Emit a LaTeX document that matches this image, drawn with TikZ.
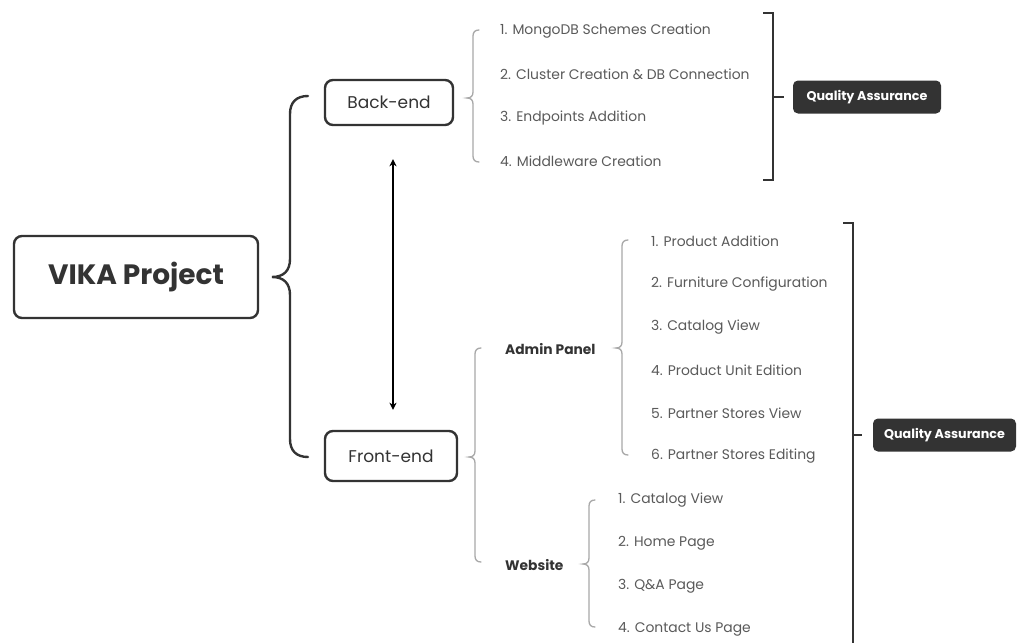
\documentclass[tikz,border=0pt]{standalone}
\usepackage{fontspec}
\setmainfont{Poppins}
\usetikzlibrary{calc,arrows.meta}
\definecolor{ink}{HTML}{333333}
\definecolor{itemgray}{HTML}{5A5A5A}
\definecolor{bracegray}{HTML}{A8A8A8}
\newcommand\mybrace[6]{%
  \draw[#1] ($(#2,#3)+(#6,0)$) .. controls ($(#2,#3)+(0.35*#6,0)$) and ($(#2,#3)+(0,0.35*#6)$) .. ($(#2,#3)+(0,#6)$)
    -- ($(#2,#4)+(0,-#6)$) .. controls ($(#2,#4)+(0,-0.35*#6)$) and ($(#2,#4)+(-0.35*#6,0)$) .. ($(#2,#4)+(-#6,0)$)
    .. controls ($(#2,#4)+(-0.35*#6,0)$) and ($(#2,#4)+(0,0.35*#6)$) .. ($(#2,#4)+(0,#6)$)
    -- ($(#2,#5)+(0,-#6)$) .. controls ($(#2,#5)+(0,-0.35*#6)$) and ($(#2,#5)+(0.35*#6,0)$) .. ($(#2,#5)+(#6,0)$);}
\tikzset{
  mainbox/.style={draw=ink, line width=2.4pt, rounded corners=8pt, text=ink, align=center},
  item/.style={anchor=west, text=itemgray, font=\fontsize{13.9}{16}\selectfont, inner sep=0pt},
  sub/.style={anchor=west, text=ink, font=\fontsize{13.8}{16}\selectfont\bfseries, inner sep=0pt},
  qabox/.style={fill=ink, rounded corners=5pt, text=white, font=\fontsize{12.7}{15}\selectfont\bfseries, minimum width=148pt, minimum height=33pt, inner sep=0pt},
  bigbrace/.style={draw=ink, line width=2.4pt, line cap=round},
  thinbrace/.style={draw=bracegray, line width=1.3pt, line cap=round},
  bracket/.style={draw=ink, line width=2pt},
  arr/.style={draw=black, line width=1.8pt, {Stealth[length=7pt,width=7pt,inset=2pt]}-{Stealth[length=7pt,width=7pt,inset=2pt]}}
}
\begin{document}
\begin{tikzpicture}[x=1pt,y=-1pt]
\useasboundingbox[fill=white] (0,0) rectangle (1018,643);
% main nodes
\node[mainbox, minimum width=244pt, minimum height=82pt, font=\fontsize{28}{32}\selectfont\bfseries] (vika) at (136,277) {VIKA Project};
\node[mainbox, minimum width=128pt, minimum height=45pt, font=\fontsize{17}{20}\selectfont] (back) at (389,102.5) {Back-end};
\node[mainbox, minimum width=132pt, minimum height=50pt, font=\fontsize{17}{20}\selectfont] (front) at (391,456) {Front-end};
% double arrow
\coordinate (as) at ($(back.south)+(4,0)$);
\coordinate (ae) at (as |- front.north);
\draw[arr, shorten <=33pt, shorten >=20pt] (as) -- (ae);
% big brace
\mybrace{bigbrace}{290}{96}{277}{457}{18}
% back-end items
\mybrace{thinbrace}{473}{30}{98}{162}{6}
\node[item] (b1) at (500,31) {1. MongoDB Schemes Creation};
\node[item] (b2) at (500,74.5) {2. Cluster Creation \& DB Connection};
\node[item] (b3) at (500,118) {3. Endpoints Addition};
\node[item] (b4) at (500,161.5) {4. Middleware Creation};
% bracket 1
\draw[bracket] (763,13) -- (773,13) -- (773,180) -- (763,180);
\coordinate (t1) at (773,97);
\node[qabox] (qa1) at (867,97) {Quality Assurance};
\draw[bracket] (t1) -- (784,97);
% front-end sub
\mybrace{thinbrace}{475}{348}{457}{562}{6}
\node[sub] (admin) at (505,349) {Admin Panel};
\node[sub] (web) at (505,565) {Website};
% admin items
\mybrace{thinbrace}{622}{240}{348}{455}{6}
\node[item] (a1) at (651,241) {1. Product Addition};
\node[item] (a2) at (651,284) {2. Furniture Configuration};
\node[item] (a3) at (651,327) {3. Catalog View};
\node[item] (a4) at (651,370) {4. Product Unit Edition};
\node[item] (a5) at (651,413) {5. Partner Stores View};
\node[item] (a6) at (651,456) {6. Partner Stores Editing};
% website items
\mybrace{thinbrace}{589}{500}{564}{627}{6}
\node[item] (w1) at (618,500) {1. Catalog View};
\node[item] (w2) at (618,543) {2. Home Page};
\node[item] (w3) at (618,586) {3. Q\&A Page};
\node[item] (w4) at (618,629) {4. Contact Us Page};
% bracket 2
\draw[bracket] (843,223) -- (853,223) -- (853,643);
\node[qabox, minimum width=143pt] (qa2) at (944.5,435) {Quality Assurance};
\draw[bracket] (853,435) -- (862,435);
\end{tikzpicture}
\end{document}
